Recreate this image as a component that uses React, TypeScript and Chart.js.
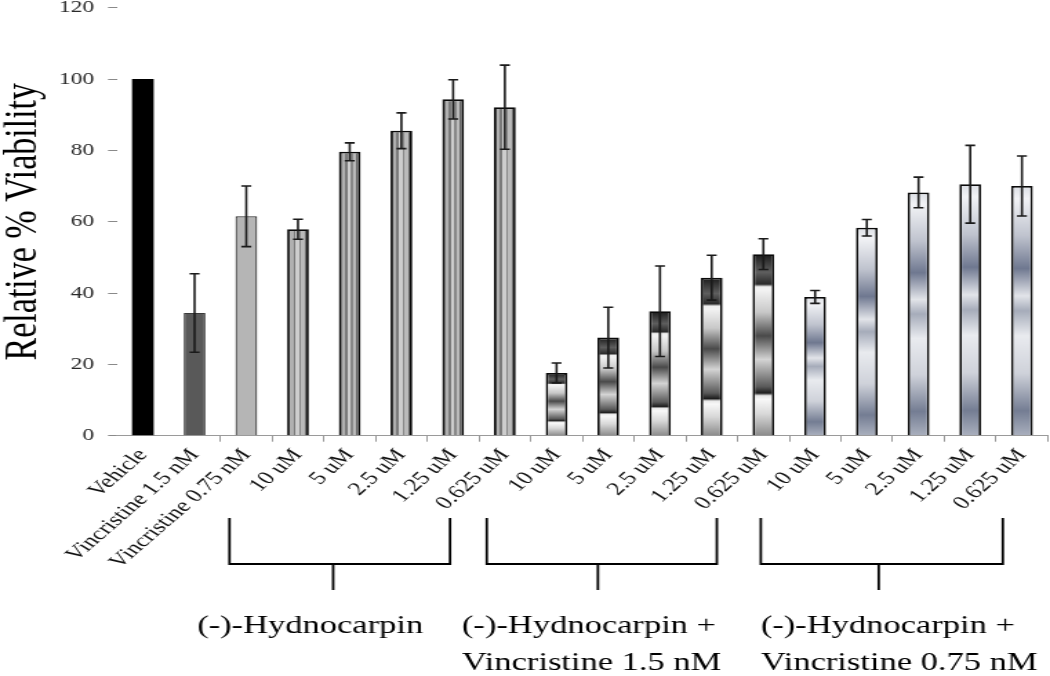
import React, { useEffect, useRef } from 'react';
import { Chart, registerables } from 'chart.js';

Chart.register(...registerables);

// ---------- data ----------
const CATEGORIES = [
  'Vehicle', 'Vincristine 1.5 nM', 'Vincristine 0.75 nM',
  '10 uM', '5 uM', '2.5 uM', '1.25 uM', '0.625 uM',
  '10 uM', '5 uM', '2.5 uM', '1.25 uM', '0.625 uM',
  '10 uM', '5 uM', '2.5 uM', '1.25 uM', '0.625 uM',
];
const VIABILITY = [
  100, 34.4, 61.5,
  57.9, 79.6, 85.5, 94.3, 92.1,
  17.6, 27.5, 34.9, 44.3, 50.9,
  38.9, 58.3, 68.2, 70.5, 70.0,
];
const ERRORS = [
  0, 11.0, 8.5,
  2.8, 2.5, 5.0, 5.5, 11.8,
  2.8, 8.5, 12.7, 6.3, 4.3,
  1.8, 2.3, 4.3, 10.9, 8.4,
];
const GROUPS = [
  'vehicle', 'vinc15', 'vinc075',
  'hyd', 'hyd', 'hyd', 'hyd', 'hyd',
  'hydV15', 'hydV15', 'hydV15', 'hydV15', 'hydV15',
  'hydV075', 'hydV075', 'hydV075', 'hydV075', 'hydV075',
];
const Y_TICKS = [0, 20, 40, 60, 80, 100, 120];
const Y_TITLE = 'Relative % Viability';
const GROUP_LABELS = [
  ['(-)-Hydnocarpin'],
  ['(-)-Hydnocarpin +', 'Vincristine 1.5 nM'],
  ['(-)-Hydnocarpin +', 'Vincristine 0.75 nM'],
];

// ---------- layout (category-index units for x, canvas px for y) ----------
const BRACKET_SPANS = [
  { from: 1.675, to: 5.94, stem: 3.68, textLeft: 1.05 },
  { from: 6.65, to: 11.1, stem: 8.8, textLeft: 6.17 },
  { from: 11.95, to: 16.63, stem: 14.23, textLeft: 11.95 },
];
const STRETCH = 1.38;
const OUT_W = 1050;
const OUT_H = 676;
const IN_W = Math.round(OUT_W / STRETCH);
const BAR_PCT = 0.42;
const SERIF = "'Liberation Serif', 'Times New Roman', serif";
const PLOT_TOP = 7.7;
const PLOT_BOTTOM = 435.7;
const X_AXIS_H = 140;

const STRIPES: [number, string][] = [
  [0, '#575757'], [0.14, '#575757'], [0.14, '#b0b0b0'], [0.28, '#b0b0b0'],
  [0.28, '#7a7a7a'], [0.4, '#7a7a7a'], [0.4, '#cdcdcd'], [0.55, '#cdcdcd'],
  [0.55, '#888888'], [0.66, '#888888'], [0.66, '#bababa'], [0.8, '#bababa'],
  [0.8, '#6a6a6a'], [1, '#6a6a6a'],
];
const METAL_GRAY: [number, string][] = [
  [0, '#8a8a8a'], [0.12, '#d8d8d8'], [0.2, '#f8f8f8'], [0.22, '#e8e8e8'],
  [0.235, '#1e1e1e'], [0.27, '#5a5a5a'], [0.42, '#d4d4d4'], [0.55, '#4a4a4a'],
  [0.68, '#c8c8c8'], [0.8, '#f2f2f2'], [0.82, '#efefef'], [0.835, '#2a2a2a'],
  [0.9, '#5e5e5e'], [1, '#1a1a1a'],
];
const METAL_BLUE: [number, string][] = [
  [0, '#aab0be'], [0.1, '#747d93'], [0.25, '#cfd2da'], [0.4, '#e9ebef'],
  [0.5, '#a6acba'], [0.56, '#e2e4e9'], [0.67, '#6f7890'], [0.8, '#bfc3ce'],
  [0.95, '#f2f3f6'], [1, '#dcdfe5'],
];

function barFill(c: any) {
  const i = c.dataIndex;
  const g = GROUPS[i];
  if (g === 'vehicle') return '#000000';
  if (g === 'vinc15') return '#595959';
  if (g === 'vinc075') return '#b5b5b5';
  const chart = c.chart;
  const xs = chart.scales?.x;
  const ys = chart.scales?.y;
  if (!chart.chartArea || !xs || !ys) return '#999999';
  const cx = xs.getPixelForValue(i);
  const w = (xs.width / CATEGORIES.length) * BAR_PCT;
  const base = ys.getPixelForValue(0);
  const top = ys.getPixelForValue(VIABILITY[i]);
  let grad: CanvasGradient;
  let stops: [number, string][];
  if (g === 'hyd') {
    grad = chart.ctx.createLinearGradient(cx - w / 2, 0, cx + w / 2, 0);
    stops = STRIPES;
  } else {
    grad = chart.ctx.createLinearGradient(0, base, 0, top);
    stops = g === 'hydV15' ? METAL_GRAY : METAL_BLUE;
  }
  stops.forEach(([o, col]) => grad.addColorStop(o, col));
  return grad;
}

function barBorderColor(c: any) {
  const g = GROUPS[c.dataIndex];
  if (g === 'vehicle') return '#000000';
  if (g === 'vinc15') return '#3a3a3a';
  if (g === 'vinc075') return '#2a2a2a';
  return '#0a0a0a';
}
function barBorderWidth(c: any) {
  const g = GROUPS[c.dataIndex];
  if (g === 'vehicle') return 0;
  if (g === 'vinc15') return 1;
  if (g === 'vinc075') return 1.2;
  return 1.8;
}

const errorBarPlugin = {
  id: 'errorBars',
  afterDatasetsDraw(chart: any) {
    const meta = chart.getDatasetMeta(0);
    const ys = chart.scales.y;
    const ctx = chart.ctx;
    ctx.save();
    ctx.strokeStyle = '#1a1a1a';
    ctx.lineWidth = 1.6;
    meta.data.forEach((el: any, i: number) => {
      const e = ERRORS[i];
      if (!e) return;
      const v = VIABILITY[i];
      const yTop = ys.getPixelForValue(v + e);
      const yBot = ys.getPixelForValue(v - e);
      const x = el.x;
      const cap = 3.6;
      ctx.beginPath();
      ctx.moveTo(x, yTop);
      ctx.lineTo(x, yBot);
      ctx.moveTo(x - cap, yTop);
      ctx.lineTo(x + cap, yTop);
      ctx.moveTo(x - cap, yBot);
      ctx.lineTo(x + cap, yBot);
      ctx.stroke();
    });
    ctx.restore();
  },
};

const bracketPlugin = {
  id: 'brackets',
  afterDraw(chart: any) {
    const xs = chart.scales.x;
    const ctx = chart.ctx;
    const yTop = 518;
    const yBar = 564;
    const yStem = 590;
    ctx.save();
    ctx.strokeStyle = '#000000';
    ctx.lineWidth = 1.8;
    ctx.fillStyle = '#000000';
    ctx.font = `25px ${SERIF}`;
    ctx.textAlign = 'left';
    ctx.textBaseline = 'alphabetic';
    BRACKET_SPANS.forEach((b, k) => {
      const x1 = xs.getPixelForValue(b.from);
      const x2 = xs.getPixelForValue(b.to);
      const xm = xs.getPixelForValue(b.stem);
      ctx.beginPath();
      ctx.moveTo(x1, yTop);
      ctx.lineTo(x1, yBar);
      ctx.lineTo(x2, yBar);
      ctx.lineTo(x2, yTop);
      ctx.moveTo(xm, yBar);
      ctx.lineTo(xm, yStem);
      ctx.stroke();
      const tx = xs.getPixelForValue(b.textLeft);
      GROUP_LABELS[k].forEach((line, j) => {
        ctx.fillText(line, tx, 633 + j * 37);
      });
    });
    ctx.restore();
  },
};

export default function App() {
  const ref = useRef<HTMLCanvasElement>(null);
  useEffect(() => {
    document.body.style.margin = '0';
    const canvas = ref.current;
    if (!canvas) return;
    Chart.defaults.font.family = SERIF;
    const chart = new Chart(canvas, {
      type: 'bar',
      data: {
        labels: CATEGORIES,
        datasets: [
          {
            data: VIABILITY,
            backgroundColor: barFill as any,
            borderColor: barBorderColor as any,
            borderWidth: barBorderWidth as any,
            barPercentage: BAR_PCT,
            categoryPercentage: 1,
          },
        ],
      },
      options: {
        responsive: false,
        animation: false,
        devicePixelRatio: 1,
        events: [],
        layout: { padding: { top: 0, left: 0, right: 1.6, bottom: OUT_H - PLOT_BOTTOM - X_AXIS_H } },
        plugins: {
          legend: { display: false },
          tooltip: { enabled: false },
          title: { display: false },
        },
        scales: {
          x: {
            offset: true,
            grid: {
              display: true,
              offset: true,
              drawOnChartArea: false,
              drawTicks: true,
              tickLength: 6,
              color: (c: any) => (c.index !== undefined && c.index <= 1 ? 'rgba(0,0,0,0)' : '#9a9a9a'),
            },
            border: { display: true, color: '#9a9a9a', width: 1 },
            ticks: {
              autoSkip: false,
              minRotation: 50,
              maxRotation: 50,
              padding: 3,
              color: '#111111',
              font: { size: 18.5, family: SERIF },
            },
            afterFit: (s: any) => {
              s.height = X_AXIS_H;
              s.paddingLeft = 0;
              s.paddingRight = 0;
            },
          },
          y: {
            min: Y_TICKS[0],
            max: Y_TICKS[Y_TICKS.length - 1],
            ticks: {
              stepSize: Y_TICKS[1] - Y_TICKS[0],
              padding: 10,
              color: '#2a2a2a',
              font: { size: 17, family: SERIF, lineHeight: 0.9 },
            },
            grid: {
              display: true,
              drawOnChartArea: false,
              drawTicks: true,
              tickLength: 6.5,
              color: '#8a8a8a',
            },
            border: { display: false },
            title: {
              display: true,
              text: Y_TITLE,
              color: '#000000',
              font: { size: 34, family: SERIF, lineHeight: 1 },
              padding: { top: 0, bottom: 0 },
            },
            afterFit: (s: any) => {
              s.width = 84.8;
              s.paddingTop = PLOT_TOP;
              s.paddingBottom = 0;
            },
          },
        },
      },
      plugins: [errorBarPlugin, bracketPlugin],
    });
    return () => chart.destroy();
  }, []);
  return (
    <div style={{ width: OUT_W, height: OUT_H, overflow: 'hidden', background: '#ffffff' }}>
      <canvas
        ref={ref}
        width={IN_W}
        height={OUT_H}
        style={{ width: `${OUT_W}px`, height: `${OUT_H}px`, display: 'block' }}
      />
    </div>
  );
}
